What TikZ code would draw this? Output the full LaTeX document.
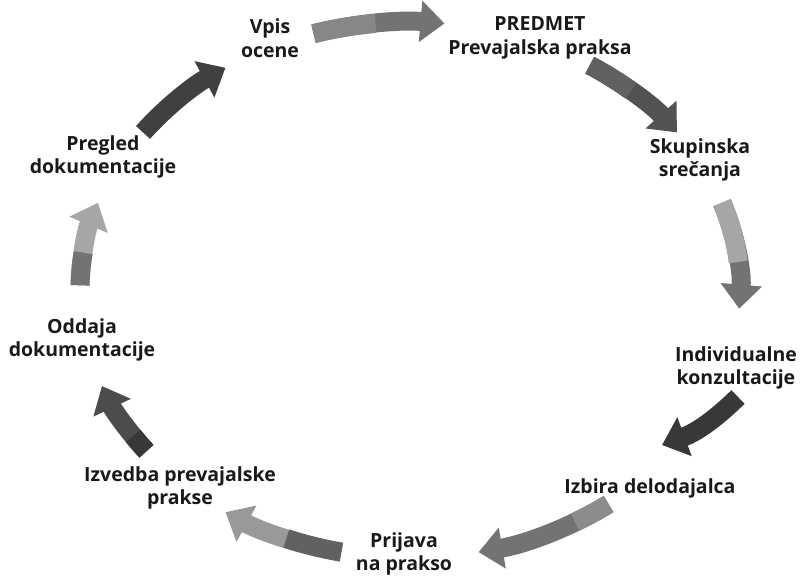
\documentclass[tikz,border=0pt]{standalone}
\usepackage{fontspec}
\setmainfont{Open Sans}
\usepackage{tikz}
\usetikzlibrary{arrows.meta}

\begin{document}
\begin{tikzpicture}[
    x=1pt, y=1pt,
    lbl/.style={font=\fontsize{19.5}{23.5}\selectfont\bfseries, align=center, text=black!90},
    cyc/.style={line width=19pt, -{Triangle[width=40pt,length=24pt]}},
    tail/.style={line width=19pt},
    ell/.style={x radius=330, y radius=268}
]
    \useasboundingbox (0,0) rectangle (800,580);
    \coordinate (c) at (410,290);

    % Labels
    \node[lbl] (vpis) at (270,542) {Vpis\\ocene};
    \node[lbl] (predmet) at (540,542) {PREDMET\\Prevajalska praksa};
    \node[lbl] (skup) at (700,420) {Skupinska\\srečanja};
    \node[lbl] (indiv) at (736,212) {Individualne\\konzultacije};
    \node[lbl] (izbira) at (650,92) {Izbira delodajalca};
    \node[lbl] (prijava) at (404,26) {Prijava\\na prakso};
    \node[lbl] (izvedba) at (180,92) {Izvedba prevajalske\\prakse};
    \node[lbl] (oddaja) at (82,240) {Oddaja\\dokumentacije};
    \node[lbl] (pregled) at (103,423) {Pregled\\dokumentacije};

    % Arrows
    \draw[cyc, black!55] (c) ++(107:330 and 268) arc[ell, start angle=107, end angle=84];
    \draw[tail, black!47] (c) ++(107:330 and 268) arc[ell, start angle=107, end angle=96];

    \draw[cyc, black!68] (c) ++(57:330 and 268) arc[ell, start angle=57, end angle=36];
    \draw[tail, black!62] (c) ++(57:330 and 268) arc[ell, start angle=57, end angle=48];

    \draw[cyc, black!55] (c) ++(19:330 and 268) arc[ell, start angle=19, end angle=-4];
    \draw[tail, black!35] (c) ++(19:330 and 268) arc[ell, start angle=19, end angle=6];

    \coordinate (t4) at (738,183);
    \coordinate (h4) at (662,135);
    \draw[cyc, black!78] (t4) to[bend left=12] (h4);

    \draw[cyc, black!55] (c) ++(-53:330 and 268) arc[ell, start angle=-53, end angle=-78];
    \draw[tail, black!45] (c) ++(-53:330 and 268) arc[ell, start angle=-53, end angle=-60];

    \draw[cyc, black!40] (c) ++(-102:330 and 268) arc[ell, start angle=-102, end angle=-124];
    \draw[tail, black!62] (c) ++(-102:330 and 268) arc[ell, start angle=-102, end angle=-112];

    \draw[cyc, black!70] (c) ++(-143:330 and 268) arc[ell, start angle=-143, end angle=-159];
    \draw[tail, black!78] (c) ++(-143:330 and 268) arc[ell, start angle=-143, end angle=-147];

    \draw[cyc, black!35] (c) ++(179:330 and 268) arc[ell, start angle=179, end angle=161];
    \draw[tail, black!55] (c) ++(179:330 and 268) arc[ell, start angle=179, end angle=172];

    \draw[cyc, black!75] (c) ++(144:330 and 268) arc[ell, start angle=144, end angle=124];
\end{tikzpicture}
\end{document}
